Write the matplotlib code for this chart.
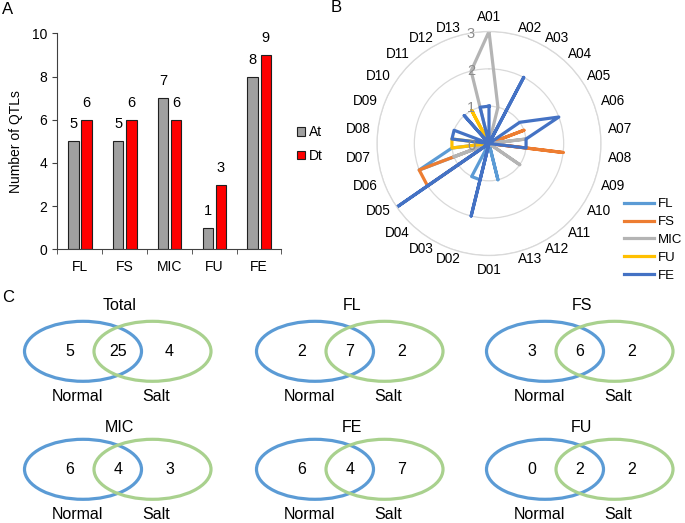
import numpy as np
from matplotlib import pyplot as plt
from matplotlib.patches import Ellipse, Patch

plt.rcParams['font.family'] = ['Liberation Sans', 'DejaVu Sans']
plt.rcParams['font.size'] = 10

# ---- panel A data
traits = ['FL', 'FS', 'MIC', 'FU', 'FE']
at_counts = [5, 5, 7, 1, 8]
dt_counts = [6, 6, 6, 3, 9]

# ---- panel B data (QTL count per chromosome)
chroms = ['A01', 'A02', 'A03', 'A04', 'A05', 'A06', 'A07', 'A08', 'A09', 'A10', 'A11', 'A12', 'A13',
          'D01', 'D02', 'D03', 'D04', 'D05', 'D06', 'D07', 'D08', 'D09', 'D10', 'D11', 'D12', 'D13']
fl = [0, 0, 0, 0, 0, 0, 0, 0, 0, 0, 0, 0, 1, 0, 1, 1, 0, 0, 2, 1, 0, 0, 0, 0, 0, 0]
fs = [0, 0, 0, 0, 0, 1, 0, 2, 0, 0, 0, 0, 0, 0, 0, 0, 0, 2, 2, 0, 0, 0, 0, 0, 0, 0]
mic = [3, 1, 0, 0, 0, 0, 1, 0, 0, 1, 0, 0, 0, 0, 0, 0, 0, 0, 1, 0, 0, 0, 0, 0, 0, 2]
fu = [0, 0, 0, 0, 0, 0, 0, 0, 0, 0, 0, 0, 0, 0, 0, 0, 0, 0, 0, 1, 1, 0, 0, 0, 1, 0]
fe = [1, 0, 2, 0, 1, 2, 1, 1, 0, 0, 0, 0, 0, 0, 2, 0, 0, 3, 0, 0, 1, 1, 0, 1, 0, 1]
radar_names = ['FL', 'FS', 'MIC', 'FU', 'FE']
radar_colors = ['#5B9BD5', '#ED7D31', '#B4B4B4', '#FFC000', '#4472C4']

# ---- panel C data
venn_titles = ['Total', 'FL', 'FS', 'MIC', 'FE', 'FU']
normal_only = [5, 2, 3, 6, 6, 0]
shared = [25, 7, 6, 4, 4, 2]
salt_only = [4, 2, 2, 3, 7, 2]

fig = plt.figure(figsize=(6.85, 5.23), dpi=100)
W, H = 685.0, 523.0

# ================= A: bars
ax = fig.add_axes([57.3 / W, 1 - 249.3 / H, 224 / W, 216 / H])
x = np.arange(len(traits))
bw = 0.232
b1 = ax.bar(x - 0.139, at_counts, bw, color='#A0A0A0', edgecolor='#202020', linewidth=0.8)
b2 = ax.bar(x + 0.152, dt_counts, bw, color='#FF0000', edgecolor='#202020', linewidth=0.8)
for bars in (b1, b2):
    for r in bars:
        ax.annotate(str(int(r.get_height())), (r.get_x() + r.get_width() / 2, r.get_height()),
                    xytext=(0, 10), textcoords='offset pixels', ha='center', va='bottom', fontsize=10.5)
ax.set_xlim(-0.5, len(traits) - 0.5)
ax.set_ylim(0, 10)
ax.set_yticks(range(0, 11, 2))
ax.set_xticks(x)
ax.set_xticklabels(traits)
ax.set_xticks(np.arange(-0.5, len(traits)), minor=True)
ax.tick_params(axis='x', which='major', length=0, pad=8)
ax.tick_params(axis='x', which='minor', length=3.5, direction='out', color='#404040')
ax.tick_params(axis='y', length=3.5, pad=4, color='#404040')
for s in ['top', 'right']:
    ax.spines[s].set_visible(False)
for s in ['left', 'bottom']:
    ax.spines[s].set_color('#404040')
ax.set_ylabel('Number of QTLs', fontsize=10, labelpad=6)
ax.legend(handles=[Patch(facecolor='#A0A0A0', edgecolor='#202020', lw=0.8, label='At'),
                   Patch(facecolor='#FF0000', edgecolor='#202020', lw=0.8, label='Dt')],
          loc='center left', bbox_to_anchor=(297 / W, 1 - 144 / H), bbox_transform=fig.transFigure,
          frameon=False, handlelength=0.6, handleheight=0.6, handletextpad=0.25,
          labelspacing=0.7, borderpad=0, borderaxespad=0, fontsize=10)

# ================= B: radar
cx, cy, R = 489.0, 143.5, 112.0
axr = fig.add_axes([(cx - R) / W, 1 - (cy + R) / H, 2 * R / W, 2 * R / H], projection='polar')
axr.set_theta_zero_location('N')
axr.set_theta_direction(-1)
n = len(chroms)
ang = np.arange(n) * 2 * np.pi / n
lines = []
for vals, name, col in zip([fl, fs, mic, fu, fe], radar_names, radar_colors):
    v = np.array(vals + vals[:1], dtype=float)
    a = np.append(ang, ang[0])
    ln, = axr.plot(a, v, color=col, lw=2.3, label=name, solid_joinstyle='round')
    lines.append(ln)
axr.set_ylim(0, 3)
axr.set_yticks([1, 2, 3])
axr.set_yticklabels([])
axr.set_xticks([])
axr.yaxis.grid(True, color='#D9D9D9', lw=0.9)
axr.xaxis.grid(False)
axr.spines['polar'].set_color('#D9D9D9')
axr.spines['polar'].set_linewidth(0.9)
axr.set_facecolor('none')
for t in range(4):
    axr.annotate(str(t), (0, t), xytext=(-18, -2), textcoords='offset pixels',
                 ha='center', va='center', color='#8C8C8C', fontsize=10.5, annotation_clip=False)
for a, lab in zip(ang, chroms):
    s, c = np.sin(a), np.cos(a)
    if abs(s) < 0.05:
        ha, va = 'center', ('bottom' if c > 0 else 'top')
    else:
        ha, va = ('left' if s > 0 else 'right'), 'center'
    axr.text(a, 3.2, lab, ha=ha, va=va, fontsize=9.8)
axr.legend(handles=lines, loc='upper left', bbox_to_anchor=(624 / W, 1 - 198 / H),
           bbox_transform=fig.transFigure, frameon=False, handlelength=2.3, handletextpad=0.25,
           labelspacing=0.43, borderpad=0, borderaxespad=0, fontsize=9.5)

# ================= C: venn + panel letters (pixel coordinates)
ov = fig.add_axes([0, 0, 1, 1])
ov.set_xlim(0, W)
ov.set_ylim(H, 0)
ov.axis('off')
ov.text(2, 10, 'A', fontsize=12, va='center')
ov.text(331, 8, 'B', fontsize=12, va='center')
ov.text(2, 298, 'C', fontsize=12, va='center')

col_x = [83, 315, 545]
row_y = [351.3, 469.3]
title_y = [305, 427]
ew, eh, sep = 117, 60, 69.5
for i, title in enumerate(venn_titles):
    bx = col_x[i % 3]
    by = row_y[i // 3]
    gx = bx + sep
    ov.add_patch(Ellipse((bx, by), ew, eh, fill=False, ec='#5B9BD5', lw=2.3))
    ov.add_patch(Ellipse((gx, by), ew, eh, fill=False, ec='#A9D18E', lw=2.3))
    ov.text((bx + gx) / 2 + 2, title_y[i // 3], title, ha='center', va='center', fontsize=11.5)
    ov.text(bx - 13, by, str(normal_only[i]), ha='center', va='center', fontsize=11.5)
    ov.text((bx + gx) / 2, by, str(shared[i]), ha='center', va='center', fontsize=11.5)
    ov.text(gx + 17, by, str(salt_only[i]), ha='center', va='center', fontsize=11.5)
    ov.text(bx - 6, by + 45, 'Normal', ha='center', va='center', fontsize=11.5)
    ov.text(gx + 4, by + 45, 'Salt', ha='center', va='center', fontsize=11.5)

fig.savefig('out.png', dpi=100)
